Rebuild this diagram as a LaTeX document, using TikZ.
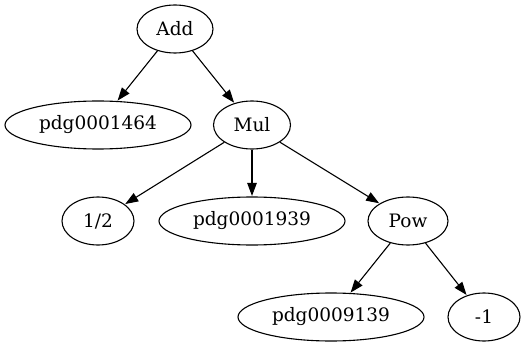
\documentclass[tikz,border=0pt]{standalone}
\usepackage{fontspec}
\setmainfont{DejaVu Serif}
\usetikzlibrary{shapes.geometric,arrows.meta}
\begin{document}
\begin{tikzpicture}[x=1pt,y=-1pt,
  nd/.style={draw,ellipse,line width=1.1pt,inner sep=0pt,minimum height=48pt,font=\fontsize{18.5}{20}\selectfont},
  ed/.style={line width=1.1pt,-{Triangle[length=13pt,width=9.5pt]},shorten >=0.5pt}]
\useasboundingbox (0,0) rectangle (526,347);
\node[nd,minimum width=76pt] (add) at (175,29) {Add};
\node[nd,minimum width=186pt] (p1464) at (98,125) {pdg0001464};
\node[nd,minimum width=77pt] (mul) at (252,125) {Mul};
\node[nd,minimum width=72pt] (half) at (98,221) {1/2};
\node[nd,minimum width=186pt] (p1939) at (252,221) {pdg0001939};
\node[nd,minimum width=80pt] (pow) at (408,221) {Pow};
\node[nd,minimum width=186pt] (p9139) at (331,317) {pdg0009139};
\node[nd,minimum width=72pt] (m1) at (484,317) {-1};
\draw[ed] (add) -- (p1464);
\draw[ed] (add) -- (mul);
\draw[ed] (mul) -- (half);
\draw[ed] (mul) -- (p1939);
\draw[ed] (mul) -- (pow);
\draw[ed] (pow) -- (p9139);
\draw[ed] (pow) -- (m1);
\end{tikzpicture}
\end{document}
